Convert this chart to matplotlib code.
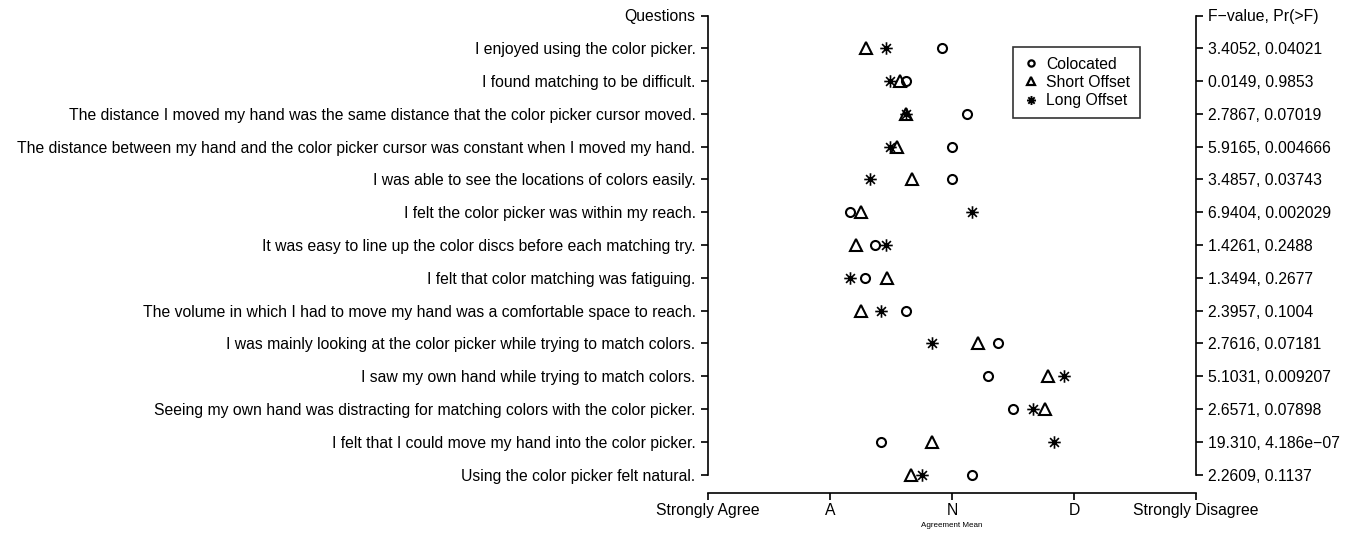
import matplotlib
matplotlib.use("Agg")
import matplotlib.pyplot as plt
from matplotlib.path import Path
from matplotlib.lines import Line2D

plt.rcParams['font.family'] = ['Liberation Sans', 'DejaVu Sans']

questions = [
    "I enjoyed using the color picker.",
    "I found matching to be difficult.",
    "The distance I moved my hand was the same distance that the color picker cursor moved.",
    "The distance between my hand and the color picker cursor was constant when I moved my hand.",
    "I was able to see the locations of colors easily.",
    "I felt the color picker was within my reach.",
    "It was easy to line up the color discs before each matching try.",
    "I felt that color matching was fatiguing.",
    "The volume in which I had to move my hand was a comfortable space to reach.",
    "I was mainly looking at the color picker while trying to match colors.",
    "I saw my own hand while trying to match colors.",
    "Seeing my own hand was distracting for matching colors with the color picker.",
    "I felt that I could move my hand into the color picker.",
    "Using the color picker felt natural.",
]

colocated = [2.92, 2.62, 3.125, 3.00, 3.00, 2.164, 2.37, 2.29, 2.62, 3.38, 3.295, 3.50, 2.42, 3.167]
short_offset = [2.296, 2.575, 2.62, 2.55, 2.67, 2.255, 2.21, 2.465, 2.25, 3.21, 3.79, 3.76, 2.84, 2.66]
long_offset = [2.46, 2.49, 2.62, 2.49, 2.33, 3.167, 2.46, 2.164, 2.42, 2.835, 3.917, 3.665, 3.84, 2.755]

f_stats = [
    "3.4052, 0.04021",
    "0.0149, 0.9853",
    "2.7867, 0.07019",
    "5.9165, 0.004666",
    "3.4857, 0.03743",
    "6.9404, 0.002029",
    "1.4261, 0.2488",
    "1.3494, 0.2677",
    "2.3957, 0.1004",
    "2.7616, 0.07181",
    "5.1031, 0.009207",
    "2.6571, 0.07898",
    "19.310, 4.186e\u221207",
    "2.2609, 0.1137",
]

x_ticks = [1, 2, 3, 4, 5]
x_tick_labels = ["Strongly Agree", "A", "N", "D", "Strongly Disagree"]

# R-style asterisk marker (pch = 8)
d = 0.7071
star = Path([(-1, 0), (1, 0), (0, -1), (0, 1), (-d, -d), (d, d), (-d, d), (d, -d)],
            [Path.MOVETO, Path.LINETO] * 4)

FS = 11.3
W, H = 1351, 540
fig = plt.figure(figsize=(W / 100, H / 100), dpi=100)
left_px, right_px = 708, 1196
top_px, bottom_px = 15.5, 493
ax = fig.add_axes([left_px / W, (H - bottom_px) / H,
                   (right_px - left_px) / W, (bottom_px - top_px) / H])

n = len(questions)
rows = list(range(1, n + 1))
ax.set_xlim(1, 5)
ax.set_ylim(14.56, 0)

base = dict(linestyle='none', color='black', markerfacecolor='none')
ax.plot(colocated, rows, marker='o', markersize=6.5, markeredgewidth=1.5, **base)
ax.plot(short_offset, rows, marker='^', markersize=8.5, markeredgewidth=1.5, **base)
ax.plot(long_offset, rows, marker=star, markersize=9, markeredgewidth=1.2, **base)

for s in ['top', 'right']:
    ax.spines[s].set_visible(False)
ax.spines['left'].set_bounds(0, n)
ax.spines['bottom'].set_bounds(1, 5)
for s in ['left', 'bottom']:
    ax.spines[s].set_linewidth(1.2)

ax.set_yticks([0] + rows)
ax.set_yticklabels(["Questions"] + questions, fontsize=FS)
ax.set_xticks(x_ticks)
ax.set_xticklabels(x_tick_labels, fontsize=FS)
ax.tick_params(axis='both', length=5, width=1.2, pad=4, direction='out')
ax.tick_params(axis='x', pad=2)
ax.set_xlabel("Agreement Mean", fontsize=5.8, labelpad=3)

ax2 = ax.twinx()
ax2.set_ylim(14.56, 0)
for s in ['top', 'left', 'bottom']:
    ax2.spines[s].set_visible(False)
ax2.spines['right'].set_bounds(0, n)
ax2.spines['right'].set_linewidth(1.2)
ax2.set_yticks([0] + rows)
ax2.set_yticklabels(["F\u2212value, Pr(>F)"] + f_stats, fontsize=FS)
ax2.tick_params(axis='y', length=5, width=1.2, pad=4, direction='out')

handles = [
    Line2D([], [], marker='o', markersize=4.5, markeredgewidth=1.6, **base),
    Line2D([], [], marker='^', markersize=5.5, markeredgewidth=1.6, **base),
    Line2D([], [], marker=star, markersize=6.5, markeredgewidth=1.4, **base),
]
leg = ax.legend(handles, ["Colocated", "Short Offset", "Long Offset"],
                loc='upper left', bbox_to_anchor=(0.625, 0.934),
                fontsize=FS, frameon=True, fancybox=False, handlelength=1.0,
                handletextpad=0.5, borderpad=0.62, labelspacing=0.2,
                borderaxespad=0)
leg.get_frame().set_edgecolor('black')
leg.get_frame().set_linewidth(1.2)

fig.savefig("out.png", dpi=100)
